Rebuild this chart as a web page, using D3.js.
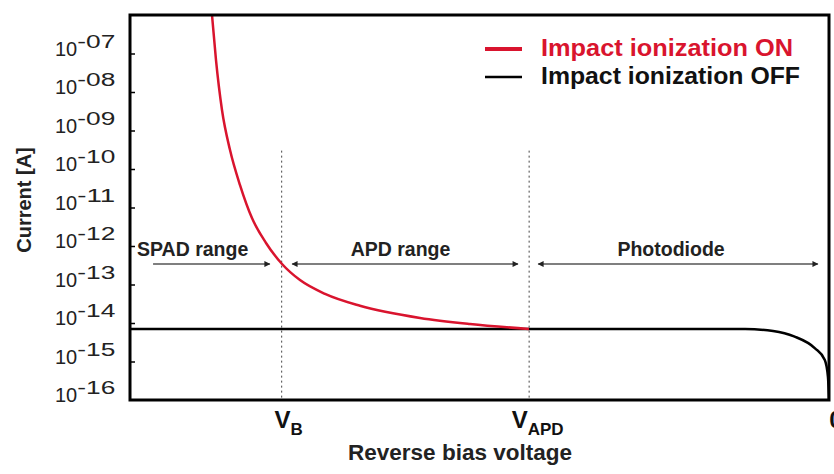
<!DOCTYPE html>
<html>
<head>
<meta charset="utf-8">
<script src="https://cdn.jsdelivr.net/npm/d3@7"></script>
<style>
  body { margin: 0; background: #fff; }
  svg { display: block; font-family: Arial, "Liberation Sans", sans-serif; }
</style>
</head>
<body>
<div id="chart"></div>
<script>
// reverse bias voltage in arbitrary units (0 at the right), current in A
var onVoltage = [88.27, 87.7, 86.84, 85.69, 84.26, 82.55, 80.54, 78.25, 75.68, 72.1, 67.1, 58.51, 51.36, 42.92];
var onCurrent = [1e-6, 6.8e-8, 3.4e-9, 3.1e-10, 3.8e-11, 5.3e-12, 1.2e-12, 3.4e-13, 1.3e-13, 5.7e-14, 2.8e-14, 1.35e-14, 9.4e-15, 7e-15];

var offVoltage = [100, 60, 12, 8, 5, 2, 0.6, 0.15, 0];
var offCurrent = [7e-15, 7e-15, 7e-15, 6.2e-15, 4.5e-15, 2.2e-15, 1.1e-15, 4e-16, 1e-16];

var yTicks = [1e-7, 1e-8, 1e-9, 1e-10, 1e-11, 1e-12, 1e-13, 1e-14, 1e-15, 1e-16];
var yExponents = ["-07", "-08", "-09", "-10", "-11", "-12", "-13", "-14", "-15", "-16"];

var xTicks = [78.3, 42.9, 0];
var xTickMain = ["V", "V", "0"];
var xTickSub = ["B", "APD", ""];

var rangeNames = ["SPAD range", "APD range", "Photodiode"];
var rangeFrom = [96.7, 76.8, 41.6];
var rangeTo = [80.0, 44.5, 1.6];
var rangeBoth = [false, true, true];

var seriesNames = ["Impact ionization ON", "Impact ionization OFF"];

var red = "#d9142e";
var width = 834, height = 474;
var margin = {top: 15, right: 5, bottom: 74, left: 130};

var svg = d3.select("#chart")
  .append("svg")
    .attr("width", width)
    .attr("height", height);

var x = d3.scaleLinear()
  .domain([100, 0])
  .range([margin.left, width - margin.right]);

var y = d3.scaleLog()
  .domain([1e-16, 1e-6])
  .range([height - margin.bottom, margin.top]);

svg.append("defs").append("clipPath").attr("id", "plot")
  .append("rect")
    .attr("x", margin.left).attr("y", margin.top)
    .attr("width", x(0) - margin.left).attr("height", y(1e-16) - margin.top);

var marker = svg.select("defs").append("marker")
  .attr("id", "head")
  .attr("viewBox", "0 0 10 10")
  .attr("refX", 9).attr("refY", 5)
  .attr("markerWidth", 7).attr("markerHeight", 6)
  .attr("markerUnits", "userSpaceOnUse")
  .attr("orient", "auto-start-reverse");
marker.append("path").attr("d", "M0,0L10,5L0,10Z").attr("fill", "#222");

// y axis ticks pointing inwards
var yAxis = svg.append("g")
  .attr("transform", "translate(" + margin.left + ",0)")
  .call(d3.axisLeft(y).tickValues(yTicks.slice(0, 9)).tickSize(-5).tickFormat(""));
yAxis.select(".domain").remove();
yAxis.selectAll("line").attr("stroke", "#000").attr("stroke-width", 1.5);

var yLab = svg.append("g").selectAll("text")
  .data(yTicks)
  .join("text")
    .attr("x", 55)
    .attr("y", (d) => y(d) + 2)
    .attr("font-size", 20)
    .attr("fill", "#222");
yLab.append("tspan").text("10");
yLab.append("tspan")
  .attr("dy", -8)
  .attr("font-size", 18)
  .attr("textLength", 38)
  .attr("lengthAdjust", "spacingAndGlyphs")
  .text((d, i) => yExponents[i]);

svg.append("text")
  .attr("transform", "translate(31," + 200 + ") rotate(-90)")
  .attr("text-anchor", "middle")
  .attr("font-size", 20)
  .attr("font-weight", "bold")
  .attr("fill", "#222")
  .text("Current [A]");

// x tick labels
var xShift = [7, 8.5, 7];
var xLab = svg.append("g").selectAll("text")
  .data(xTicks)
  .join("text")
    .attr("x", (d, i) => x(d) + xShift[i])
    .attr("y", 428)
    .attr("text-anchor", "middle")
    .attr("font-weight", "bold")
    .attr("font-size", 24)
    .attr("fill", "#111");
xLab.append("tspan").text((d, i) => xTickMain[i]);
xLab.append("tspan")
  .attr("dy", 7)
  .attr("font-size", 17)
  .text((d, i) => xTickSub[i]);

svg.append("text")
  .attr("x", 460)
  .attr("y", 460)
  .attr("text-anchor", "middle")
  .attr("font-weight", "bold")
  .attr("font-size", 22.5)
  .attr("fill", "#222")
  .text("Reverse bias voltage");

// dotted markers at V_B and V_APD
svg.append("g").selectAll("line")
  .data(xTicks.slice(0, 2))
  .join("line")
    .attr("x1", (d) => x(d)).attr("x2", (d) => x(d))
    .attr("y1", y(3e-10)).attr("y2", y(1e-16))
    .attr("stroke", "#444")
    .attr("stroke-width", 1)
    .attr("stroke-dasharray", "2,3");

// range arrows
var arrowLevel = 3.4e-13;
svg.append("g").selectAll("line")
  .data(rangeNames)
  .join("line")
    .attr("x1", (d, i) => x(rangeFrom[i]))
    .attr("x2", (d, i) => x(rangeTo[i]))
    .attr("y1", y(arrowLevel)).attr("y2", y(arrowLevel))
    .attr("stroke", "#555")
    .attr("stroke-width", 1.5)
    .attr("marker-end", "url(#head)")
    .attr("marker-start", (d, i) => rangeBoth[i] ? "url(#head)" : null);

var labelLevel = 5.5e-13;
var labelAt = [99, 61.3, 22.6];
svg.append("g").selectAll("text")
  .data(rangeNames)
  .join("text")
    .attr("x", (d, i) => x(labelAt[i]))
    .attr("y", y(labelLevel))
    .attr("text-anchor", (d, i) => i === 0 ? "start" : "middle")
    .attr("font-weight", "bold")
    .attr("font-size", 19.5)
    .attr("fill", "#222")
    .text((d) => d);

// curves
var off = offVoltage.map((v, i) => ({v: v, c: offCurrent[i]}));
var on = onVoltage.map((v, i) => ({v: v, c: onCurrent[i]}));
var line = d3.line()
  .x((d) => x(d.v))
  .y((d) => y(d.c))
  .curve(d3.curveMonotoneX);

var plot = svg.append("g").attr("clip-path", "url(#plot)");
plot.append("path")
  .datum(off)
  .attr("fill", "none")
  .attr("stroke", "#000")
  .attr("stroke-width", 2.5)
  .attr("d", line);
plot.append("path")
  .datum(on)
  .attr("fill", "none")
  .attr("stroke", red)
  .attr("stroke-width", 2.5)
  .attr("d", line);

// frame
svg.append("rect")
  .attr("x", margin.left).attr("y", margin.top)
  .attr("width", x(0) - margin.left).attr("height", y(1e-16) - margin.top)
  .attr("fill", "none")
  .attr("stroke", "#000")
  .attr("stroke-width", 3);

// legend
var legendWidth = [252, 259];
var legend = svg.append("g").selectAll("g")
  .data(seriesNames)
  .join("g")
    .attr("transform", (d, i) => "translate(485," + (49 + i * 28) + ")");
legend.append("line")
  .attr("x1", 0).attr("x2", 37)
  .attr("stroke", (d, i) => i === 0 ? red : "#000")
  .attr("stroke-width", (d, i) => i === 0 ? 4 : 2.5);
legend.append("text")
  .attr("x", 56)
  .attr("y", 7)
  .attr("font-weight", "bold")
  .attr("font-size", 23)
  .attr("textLength", (d, i) => legendWidth[i])
  .attr("lengthAdjust", "spacingAndGlyphs")
  .attr("fill", (d, i) => i === 0 ? red : "#111")
  .text((d) => d);
</script>
</body>
</html>
